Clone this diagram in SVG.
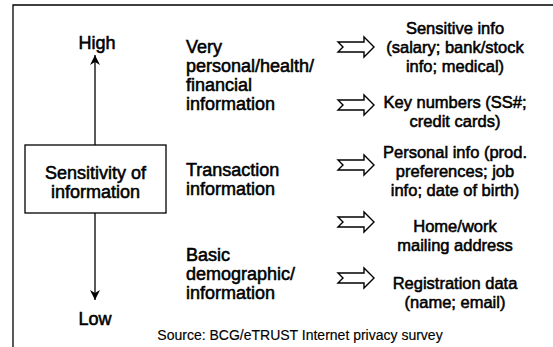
<svg xmlns="http://www.w3.org/2000/svg" width="553" height="347" viewBox="0 0 553 347">
<defs>
<style>
text{font-family:"Liberation Sans",Arial,sans-serif;fill:#000;stroke:#000;stroke-width:0.55}
.m{font-size:18px}
.r{font-size:16.5px;text-anchor:middle}
.c{font-size:18px;text-anchor:middle}
.s{font-size:14px;text-anchor:middle;stroke-width:0.15}
.ln{stroke:#000;stroke-width:1.3;fill:none}
.blk{fill:#fff;stroke:#000;stroke-width:1.4;stroke-linejoin:miter}
</style>
<marker id="ah" viewBox="0 0 10 16" refX="10" refY="8" markerWidth="10" markerHeight="16" markerUnits="userSpaceOnUse" orient="auto">
<path d="M0,3 L10,8 L0,13 L3,8 Z" fill="#000"/>
</marker>
<path id="ba" d="M0,-5 L26,-5 L26,-10 L36,0 L26,10 L26,5 L0,5 L5,0 Z"/>
</defs>
<rect width="553" height="347" fill="#fff"/>
<g id="frame">
<path class="ln" d="M13,347 L13,5 L553,5"/>
</g>
<g id="connectors">
<line class="ln" x1="95" y1="145" x2="95" y2="55" marker-end="url(#ah)"/>
<line class="ln" x1="95" y1="213" x2="95" y2="300" marker-end="url(#ah)"/>
<use href="#ba" class="blk" x="338" y="47"/>
<use href="#ba" class="blk" x="338" y="105"/>
<use href="#ba" class="blk" x="338" y="165"/>
<use href="#ba" class="blk" x="338" y="222"/>
<use href="#ba" class="blk" x="338" y="278"/>
</g>
<g id="high"><text class="c" x="97" y="49">High</text></g>
<g id="low"><text class="c" x="95" y="325">Low</text></g>
<g id="sensitivity">
<rect x="25" y="145" width="141" height="68" fill="#fff" stroke="#000" stroke-width="1.3"/>
<text class="c" x="95.5" y="179">Sensitivity of</text>
<text class="c" x="95.5" y="198">information</text>
</g>
<g id="very">
<text class="m" x="186" y="53">Very</text>
<text class="m" x="186" y="72">personal/health/</text>
<text class="m" x="186" y="91">financial</text>
<text class="m" x="186" y="110">information</text>
</g>
<g id="transaction">
<text class="m" x="186" y="176">Transaction</text>
<text class="m" x="186" y="195">information</text>
</g>
<g id="basic">
<text class="m" x="186" y="261">Basic</text>
<text class="m" x="186" y="280">demographic/</text>
<text class="m" x="186" y="299">information</text>
</g>
<g id="sensitive-info">
<text class="r" x="455" y="34">Sensitive info</text>
<text class="r" x="455" y="53">(salary; bank/stock</text>
<text class="r" x="455" y="72">info; medical)</text>
</g>
<g id="key-numbers">
<text class="r" x="455" y="108">Key numbers (SS#;</text>
<text class="r" x="455" y="127">credit cards)</text>
</g>
<g id="personal-info">
<text class="r" x="455" y="158">Personal info (prod.</text>
<text class="r" x="455" y="177">preferences;  job</text>
<text class="r" x="455" y="196">info; date of birth)</text>
</g>
<g id="home-work">
<text class="r" x="455" y="232">Home/work</text>
<text class="r" x="455" y="251">mailing address</text>
</g>
<g id="registration">
<text class="r" x="455" y="289">Registration data</text>
<text class="r" x="455" y="308">(name; email)</text>
</g>
<g id="source"><text class="s" x="300" y="340">Source: BCG/eTRUST Internet privacy survey</text></g>
</svg>
